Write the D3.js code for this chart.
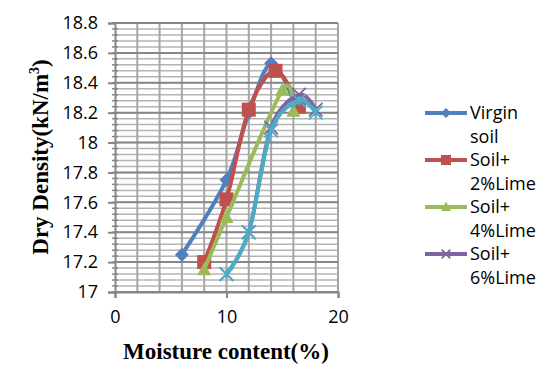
<!DOCTYPE html>
<html>
<head>
<meta charset="utf-8">
<script src="https://cdn.jsdelivr.net/npm/d3@7"></script>
<style>
  body { margin: 0; background: #fff; }
  .tick-label { font-family: "Open Sans", sans-serif; font-size: 18px; fill: #000; }
  .legend-text { font-family: "Open Sans", sans-serif; font-size: 18px; fill: #000; }
  .axis-title { font-family: "Liberation Serif", "Times New Roman", serif; font-weight: bold; font-size: 23px; fill: #000; }
</style>
</head>
<body>
<div id="chart"></div>
<script>
var series_names = ["Virgin soil", "Soil+2%Lime", "Soil+4%Lime", "Soil+6%Lime", "Soil+8%Lime"];
var series_colors = ["#4f81bd", "#c0504d", "#9bbb59", "#8064a2", "#4bacc6"];
var series_markers = ["diamond", "square", "triangle", "x", "star"];

var virgin_x = [6, 10, 12, 14, 16];
var virgin_y = [17.25, 17.75, 18.2, 18.53, 18.28];
var lime2_x = [8, 10, 12, 14.4, 16.5];
var lime2_y = [17.2, 17.62, 18.22, 18.48, 18.24];
var lime4_x = [8, 10, 15, 16];
var lime4_y = [17.15, 17.5, 18.35, 18.21];
var lime6_x = [10, 12, 14, 16.5, 18];
var lime6_y = [17.12, 17.4, 18.1, 18.32, 18.22];
var lime8_x = [10, 12, 14, 16.5, 18];
var lime8_y = [17.12, 17.4, 18.08, 18.28, 18.2];

var x_ticks = [0, 10, 20];
var y_ticks = [17, 17.2, 17.4, 17.6, 17.8, 18, 18.2, 18.4, 18.6, 18.8];

var W = 558, H = 389;
var pl = 115, pr = 338, pt = 23, pb = 292;

var svg = d3.select("#chart").append("svg")
    .attr("width", W)
    .attr("height", H);

var x = d3.scaleLinear().domain([0, 20]).range([pl, pr]);
var y = d3.scaleLinear().domain([17, 18.8]).range([pb, pt]);

// minor horizontal grid every 0.04
var minor = d3.range(0, 46).map(function (i) { return 17 + i * 0.04; });
svg.append("g").selectAll("line").data(minor).enter().append("line")
    .attr("x1", pl).attr("x2", pr)
    .attr("y1", function (d) { return y(d); })
    .attr("y2", function (d) { return y(d); })
    .attr("stroke", "#b4b4b4")
    .attr("stroke-width", 1.5);

// vertical grid every 2
svg.append("g").selectAll("line").data(d3.range(2, 21, 2)).enter().append("line")
    .attr("x1", function (d) { return x(d); })
    .attr("x2", function (d) { return x(d); })
    .attr("y1", pt).attr("y2", pb)
    .attr("stroke", "#a6a6a6")
    .attr("stroke-width", 2);

// major horizontal grid
svg.append("g").selectAll("line").data(y_ticks).enter().append("line")
    .attr("x1", pl).attr("x2", pr)
    .attr("y1", function (d) { return y(d); })
    .attr("y2", function (d) { return y(d); })
    .attr("stroke", "#868686")
    .attr("stroke-width", 2);

// y axis
var yAxis = svg.append("g").attr("transform", "translate(" + pl + ",0)")
    .call(d3.axisLeft(y).tickValues(y_ticks).tickSize(7).tickPadding(10)
        .tickFormat(function (d) { return d3.format("~g")(d); }));
yAxis.select(".domain").attr("stroke", "#868686").attr("stroke-width", 2);
yAxis.selectAll(".tick line").attr("stroke", "#868686").attr("stroke-width", 2);
yAxis.selectAll(".tick text").attr("class", "tick-label");
yAxis.attr("font-size", null).attr("font-family", null);

// minor y ticks crossing axis
svg.append("g").selectAll("line").data(minor).enter().append("line")
    .attr("x1", pl - 3).attr("x2", pl + 3)
    .attr("y1", function (d) { return y(d); })
    .attr("y2", function (d) { return y(d); })
    .attr("stroke", "#868686")
    .attr("stroke-width", 1.5);

// x axis
var xAxis = svg.append("g").attr("transform", "translate(0," + pb + ")")
    .call(d3.axisBottom(x).tickValues(x_ticks).tickSize(6).tickPadding(12));
xAxis.select(".domain").attr("stroke", "#868686").attr("stroke-width", 2);
xAxis.selectAll(".tick line").attr("stroke", "#868686").attr("stroke-width", 2);
xAxis.selectAll(".tick text").attr("class", "tick-label");
xAxis.attr("font-size", null).attr("font-family", null);

// series
var all_x = [virgin_x, lime2_x, lime4_x, lime6_x, lime8_x];
var all_y = [virgin_y, lime2_y, lime4_y, lime6_y, lime8_y];

var line = d3.line()
    .x(function (d) { return x(d[0]); })
    .y(function (d) { return y(d[1]); })
    .curve(d3.curveCatmullRom.alpha(0));

function drawMarker(g, type, cx, cy, s, color) {
    if (type == "diamond") {
        g.append("path")
            .attr("d", "M" + cx + "," + (cy - s) + "L" + (cx + s) + "," + cy + "L" + cx + "," + (cy + s) + "L" + (cx - s) + "," + cy + "Z")
            .attr("fill", color);
    } else if (type == "square") {
        g.append("rect")
            .attr("x", cx - s).attr("y", cy - s)
            .attr("width", 2 * s).attr("height", 2 * s)
            .attr("fill", color);
    } else if (type == "triangle") {
        g.append("path")
            .attr("d", "M" + cx + "," + (cy - s * 1.1) + "L" + (cx + s) + "," + (cy + s * 0.8) + "L" + (cx - s) + "," + (cy + s * 0.8) + "Z")
            .attr("fill", color);
    } else {
        var k = s * 0.85;
        var p = "M" + (cx - k) + "," + (cy - k) + "L" + (cx + k) + "," + (cy + k) +
            "M" + (cx - k) + "," + (cy + k) + "L" + (cx + k) + "," + (cy - k);
        if (type == "star")
            p += "M" + cx + "," + (cy - s * 0.6) + "L" + cx + "," + (cy + s * 0.6);
        g.append("path").attr("d", p)
            .attr("stroke", color).attr("stroke-width", 1.8).attr("fill", "none");
    }
}

for (var i = 0; i < series_names.length; i++) {
    var pts = all_x[i].map(function (v, j) { return [v, all_y[i][j]]; });
    var g = svg.append("g");
    g.append("path").datum(pts)
        .attr("d", line)
        .attr("fill", "none")
        .attr("stroke", series_colors[i])
        .attr("stroke-width", 4)
        .attr("stroke-linejoin", "round");
    var ms = series_markers[i] == "x" || series_markers[i] == "star" ? 8 : 7;
    pts.forEach(function (p) {
        drawMarker(g, series_markers[i], x(p[0]), y(p[1]), ms, series_colors[i]);
    });
}

// legend (first four entries fit)
var legend_lines = [["Virgin", "soil"], ["Soil+", "2%Lime"], ["Soil+", "4%Lime"], ["Soil+", "6%Lime"]];
var leg = svg.append("g");
for (var i = 0; i < legend_lines.length; i++) {
    var ly = 113 + i * 47;
    leg.append("line")
        .attr("x1", 425).attr("x2", 467)
        .attr("y1", ly).attr("y2", ly)
        .attr("stroke", series_colors[i])
        .attr("stroke-width", 4);
    drawMarker(leg, series_markers[i], 446, ly, 5, series_colors[i]);
    leg.append("text").attr("class", "legend-text")
        .attr("x", 470).attr("y", ly).attr("dy", "0.35em")
        .text(legend_lines[i][0]);
    leg.append("text").attr("class", "legend-text")
        .attr("x", 470).attr("y", ly + 24).attr("dy", "0.35em")
        .text(legend_lines[i][1]);
}

// axis titles
svg.append("text").attr("class", "axis-title")
    .attr("x", 226).attr("y", 359)
    .attr("text-anchor", "middle")
    .text("Moisture content(%)");

var yt = svg.append("text").attr("class", "axis-title")
    .attr("transform", "translate(48,157) rotate(-90)")
    .attr("text-anchor", "middle");
yt.append("tspan").text("Dry Density(kN/m");
yt.append("tspan").attr("dy", -9).attr("font-size", "14px").text("3");
yt.append("tspan").attr("dy", 9).text(")");
</script>
</body>
</html>
